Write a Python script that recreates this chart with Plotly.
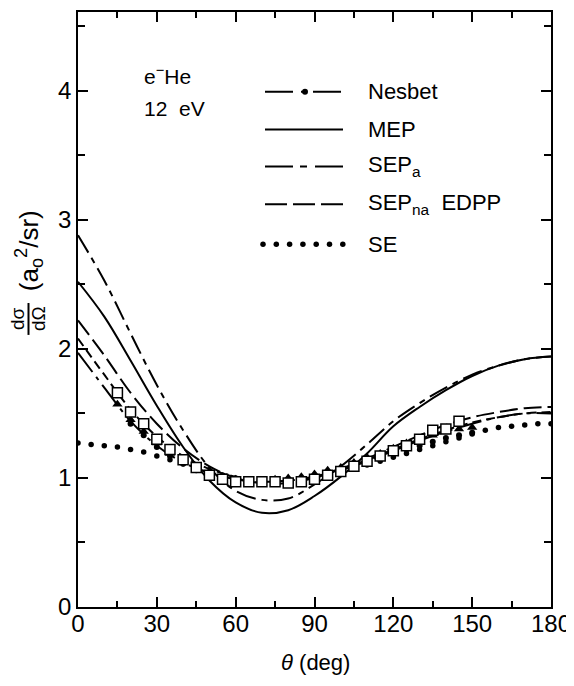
import plotly.graph_objects as go

# ---------------- data ----------------
theta_curve = [0, 10, 20, 30, 40, 50, 60, 70, 80, 90, 100, 110, 120, 130, 140, 150, 160, 170, 180]

mep = [2.52, 2.25, 1.91, 1.56, 1.24, 0.98, 0.81, 0.73, 0.75, 0.86, 1.01, 1.19, 1.40, 1.55, 1.68, 1.79, 1.87, 1.92, 1.94]
sepa = [2.88, 2.53, 2.12, 1.72, 1.37, 1.08, 0.90, 0.83, 0.84, 0.95, 1.09, 1.26, 1.44, 1.58, 1.70, 1.80, 1.87, 1.92, 1.94]
sepna = [2.22, 1.95, 1.66, 1.42, 1.23, 1.09, 1.00, 0.96, 0.96, 1.00, 1.07, 1.15, 1.24, 1.33, 1.41, 1.47, 1.51, 1.54, 1.55]
nesbet = [1.97, 1.70, 1.44, 1.25, 1.12, 1.04, 0.99, 0.97, 0.98, 1.01, 1.06, 1.13, 1.21, 1.29, 1.36, 1.42, 1.47, 1.50, 1.50]
extra = [2.08, 1.80, 1.53, 1.32, 1.17, 1.07, 1.01, 0.98, 0.98, 1.01, 1.07, 1.14, 1.22, 1.30, 1.37, 1.43, 1.47, 1.50, 1.51]

theta_se = [0, 5, 10, 15, 20, 25, 30, 35, 40, 45, 50, 55, 60, 65, 70, 75, 80, 85, 90,
            95, 100, 105, 110, 115, 120, 125, 130, 135, 140, 145, 150, 155, 160, 165, 170, 175, 180]
se = [1.27, 1.26, 1.25, 1.24, 1.22, 1.20, 1.17, 1.14, 1.11, 1.08, 1.05, 1.02, 1.00, 0.99, 0.98, 0.98, 0.98, 0.99, 1.00,
      1.02, 1.04, 1.07, 1.10, 1.13, 1.16, 1.19, 1.22, 1.25, 1.28, 1.31, 1.34, 1.37, 1.39, 1.40, 1.41, 1.42, 1.42]

theta_sq = [15, 20, 25, 30, 35, 40, 45, 50, 55, 60, 65, 70, 75, 80, 85, 90, 95, 100, 105, 110, 115, 120, 125, 130, 135, 140, 145]
squares = [1.66, 1.51, 1.42, 1.30, 1.22, 1.14, 1.08, 1.02, 0.99, 0.97, 0.97, 0.97, 0.97, 0.96, 0.97, 0.99, 1.02, 1.05, 1.09, 1.13, 1.17, 1.21, 1.25, 1.30, 1.37, 1.38, 1.44]

theta_tri = [15, 20, 25, 30, 35, 40, 45, 50, 55, 60, 65, 70, 75, 80, 85, 90, 95, 100, 105, 110, 115, 120, 125, 130, 135, 140, 145, 150]
triangles = [1.57, 1.45, 1.36, 1.27, 1.19, 1.13, 1.08, 1.04, 1.01, 0.99, 0.98, 0.98, 0.99, 1.00, 1.01, 1.03, 1.06, 1.08, 1.12, 1.16, 1.19, 1.23, 1.27, 1.30, 1.33, 1.36, 1.38, 1.39]

theta_dot = [20, 25, 30, 35, 40, 45, 50, 55, 60, 65, 70, 75, 80, 85, 90, 95, 100, 105, 110, 115, 120, 125, 130, 135, 140, 145, 150]
dots = [1.42, 1.33, 1.24, 1.17, 1.11, 1.06, 1.02, 0.99, 0.97, 0.96, 0.96, 0.96, 0.97, 0.99, 1.01, 1.03, 1.05, 1.08, 1.12, 1.15, 1.19, 1.22, 1.25, 1.28, 1.31, 1.33, 1.35]

legend_labels = ["Nesbet", "MEP", "SEP<sub>a</sub>", "SEP<sub>na</sub>  EDPP", "SE"]
x_ticks = [0, 30, 60, 90, 120, 150, 180]
y_ticks = [0, 1, 2, 3, 4]

# ---------------- layout geometry (page pixels) ----------------
PAGE_W, PAGE_H = 574, 686
OFF = 8                      # default body margin of the html page
W, H = PAGE_W - OFF, PAGE_H - OFF
L, R, T, B = 78, 551, 10, 607
FONT = "Liberation Sans"


def px2x(px):
    return (px - L) / (R - L)


def py2y(py):
    return (B - py) / (B - T)


fig = go.Figure()
K = "black"

fig.add_trace(go.Scatter(x=theta_curve, y=extra, mode="lines", line=dict(color=K, width=2, dash="9px,5px", shape="spline"), showlegend=False))
fig.add_trace(go.Scatter(x=theta_curve, y=sepna, mode="lines", line=dict(color=K, width=2, dash="18px,6px", shape="spline"), showlegend=False))
fig.add_trace(go.Scatter(x=theta_curve, y=nesbet, mode="lines", line=dict(color=K, width=2, dash="24px,6px,4px,6px", shape="spline"), showlegend=False))
fig.add_trace(go.Scatter(x=theta_curve, y=sepa, mode="lines", line=dict(color=K, width=2, dash="20px,6px,6px,6px", shape="spline"), showlegend=False))
fig.add_trace(go.Scatter(x=theta_curve, y=mep, mode="lines", line=dict(color=K, width=2, shape="spline"), showlegend=False))
fig.add_trace(go.Scatter(x=theta_se, y=se, mode="markers", marker=dict(color=K, size=5.5), showlegend=False))

fig.add_trace(go.Scatter(x=theta_dot, y=dots, mode="markers", marker=dict(color=K, size=6, symbol="circle"), showlegend=False))
fig.add_trace(go.Scatter(x=theta_tri, y=triangles, mode="markers", marker=dict(color=K, size=9, symbol="triangle-up"), showlegend=False))
fig.add_trace(go.Scatter(x=theta_sq, y=squares, mode="markers",
                         marker=dict(color="white", size=10, symbol="square", line=dict(color=K, width=1.5)), showlegend=False))

# ---------------- legend (drawn on an auxiliary 0..1 axis) ----------------
rows_py = [90, 128, 165, 203, 243]
lx0, lx1, ltext = 265, 343, 366
dashes = ["28px,8px,4px,8px", "solid", "28px,7px,7px,8px", "22px,6px"]
for i, d in enumerate(dashes):
    fig.add_trace(go.Scatter(x=[px2x(lx0), px2x(lx1)], y=[py2y(rows_py[i])] * 2, mode="lines",
                             line=dict(color=K, width=2, dash=d), xaxis="x2", yaxis="y2", showlegend=False))
fig.add_trace(go.Scatter(x=[px2x((lx0 + lx1) / 2 + 1)], y=[py2y(rows_py[0])], mode="markers",
                         marker=dict(color=K, size=6), xaxis="x2", yaxis="y2", showlegend=False))
fig.add_trace(go.Scatter(x=[px2x(263 + 13.3 * k) for k in range(7)], y=[py2y(rows_py[4])] * 7, mode="markers",
                         marker=dict(color=K, size=5.5), xaxis="x2", yaxis="y2", showlegend=False))

ann = []
for lab, py in zip(legend_labels, rows_py):
    ann.append(dict(x=px2x(ltext), y=py2y(py), xref="paper", yref="paper", text=lab, showarrow=False,
                    xanchor="left", yanchor="middle", font=dict(size=22, color=K, family=FONT)))

ann.append(dict(x=px2x(142), y=py2y(73), xref="paper", yref="paper", text="e<sup>−</sup>He", showarrow=False,
                xanchor="left", yanchor="middle", font=dict(size=21, color=K, family=FONT)))
ann.append(dict(x=px2x(142), y=py2y(107), xref="paper", yref="paper", text="12  eV", showarrow=False,
                xanchor="left", yanchor="middle", font=dict(size=21, color=K, family=FONT)))

# x-axis title
ann.append(dict(x=px2x(315), y=py2y(663), xref="paper", yref="paper", text="<i>θ</i> (deg)", showarrow=False,
                xanchor="center", yanchor="middle", font=dict(size=22, color=K, family=FONT)))

# y-axis title (rotated fraction)
ann.append(dict(x=px2x(18), y=py2y(318), xref="paper", yref="paper", text="dσ", textangle=-90, showarrow=False,
                xanchor="center", yanchor="middle", font=dict(size=19, color=K, family=FONT)))
ann.append(dict(x=px2x(39), y=py2y(318), xref="paper", yref="paper", text="dΩ", textangle=-90, showarrow=False,
                xanchor="center", yanchor="middle", font=dict(size=19, color=K, family=FONT)))
ann.append(dict(x=px2x(29), y=py2y(250), xref="paper", yref="paper", text="(a<sub>o</sub><sup>2</sup>/sr)",
                textangle=-90, showarrow=False, xanchor="center", yanchor="middle",
                font=dict(size=26, color=K, family=FONT)))

shapes = [dict(type="line", xref="paper", yref="paper", x0=px2x(28.5), x1=px2x(28.5), y0=py2y(302), y1=py2y(334),
               line=dict(color=K, width=2))]

axis_common = dict(showgrid=False, zeroline=False, showline=True, linecolor=K, linewidth=1.5, mirror="ticks",
                   ticks="inside", tickcolor=K, tickwidth=1.5, tickfont=dict(size=24, color=K, family=FONT))

fig.update_layout(
    width=W, height=H, margin=dict(l=L - OFF, r=PAGE_W - R, t=T - OFF, b=PAGE_H - B),
    plot_bgcolor="white", paper_bgcolor="white", showlegend=False,
    xaxis=dict(range=[0, 180], tickvals=x_ticks, ticklen=10, ticklabelstandoff=-6,
               minor=dict(ticks="inside", dtick=15, ticklen=6, tickcolor=K, tickwidth=1.5), **axis_common),
    yaxis=dict(range=[0, 4.61], tickvals=y_ticks, ticklen=10,
               minor=dict(ticks="inside", dtick=0.5, ticklen=7, tickcolor=K, tickwidth=1.5), **axis_common),
    xaxis2=dict(range=[0, 1], overlaying="x", visible=False, fixedrange=True),
    yaxis2=dict(range=[0, 1], overlaying="y", visible=False, fixedrange=True),
    annotations=ann, shapes=shapes,
)

fig.write_html("out.html")
